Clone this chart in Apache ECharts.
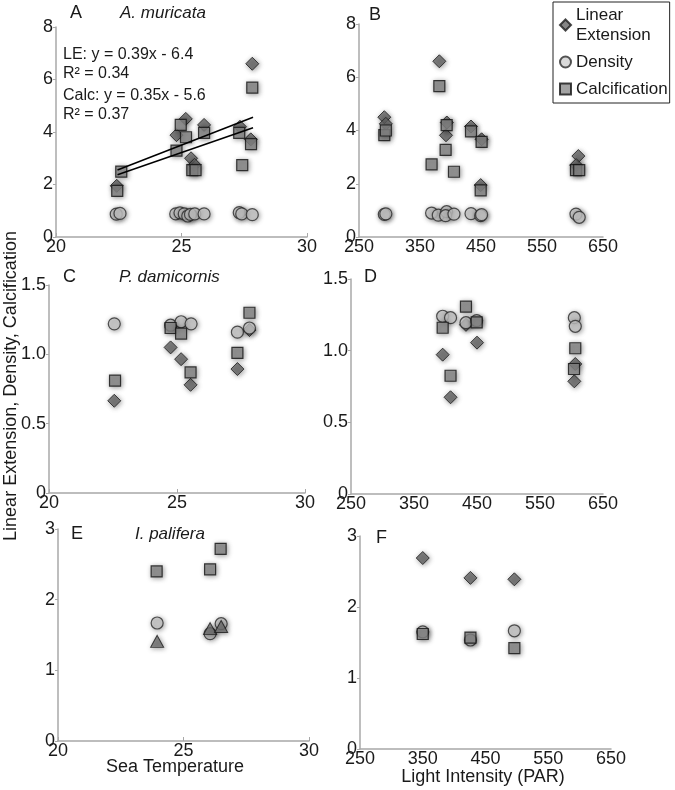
<!DOCTYPE html>
<html>
<head>
<meta charset="utf-8">
<script src="https://cdn.jsdelivr.net/npm/echarts@6/dist/echarts.min.js"></script>
<style>
html,body{margin:0;padding:0;background:#fff;}
#chart{width:675px;height:790px;}
</style>
</head>
<body>
<div id="chart"></div>
<script>
// ---- Data ----
// Panel A: A. muricata vs Sea Temperature
const aLE   = [[22.42,1.95],[24.8,3.88],[25.17,4.5],[25.38,3.0],[25.52,2.75],[25.9,4.27],[27.33,4.2],[27.82,6.6],[27.76,3.72]];
const aDen  = [[22.4,0.87],[22.55,0.9],[24.77,0.88],[24.94,0.92],[25.11,0.88],[25.25,0.8],[25.36,0.86],[25.53,0.88],[25.9,0.88],[27.3,0.93],[27.4,0.88],[27.82,0.85]];
const aCalc = [[22.44,1.76],[22.6,2.49],[24.8,3.29],[24.97,4.27],[25.18,3.8],[25.43,2.55],[25.56,2.55],[25.9,3.97],[27.3,3.97],[27.42,2.74],[27.82,5.69],[27.77,3.54]];
const aLEFit   = [[22.45,2.55],[27.85,4.56]];
const aCalcFit = [[22.45,2.37],[27.85,4.16]];
// Panel B: A. muricata vs Light Intensity
const bLE   = [[291.5,4.5],[294,4.25],[381.7,6.6],[392.6,3.82],[394,4.3],[433.6,4.15],[451,3.67],[449.5,1.95],[609.6,3.04],[606,2.7]];
const bDen  = [[291.5,0.85],[294,0.87],[369,0.9],[380,0.82],[393.7,0.95],[392,0.8],[405.7,0.86],[433.6,0.88],[449.5,0.8],[451,0.84],[605.7,0.86],[611,0.74]];
const bCalc = [[291.5,3.83],[294,4.0],[381.7,5.67],[369,2.73],[393.7,4.2],[392,3.27],[405.7,2.45],[433.6,3.97],[451,3.57],[449.5,1.75],[605.7,2.51],[611,2.51]];
// Panel C: P. damicornis vs Sea Temperature
const cLE   = [[22.55,0.665],[24.75,1.05],[25.16,0.965],[25.53,0.78],[27.36,0.894],[27.83,1.175]];
const cDen  = [[22.55,1.22],[24.75,1.21],[25.16,1.235],[25.55,1.22],[27.36,1.16],[27.83,1.19]];
const cCalc = [[22.58,0.81],[24.75,1.19],[25.16,1.15],[25.53,0.87],[27.36,1.01],[27.83,1.30]];
// Panel D: P. damicornis vs Light Intensity
const dLE   = [[395.5,0.972],[408,0.675],[432.5,1.18],[450,1.056],[606,0.907],[604.5,0.786]];
const dDen  = [[395.5,1.24],[408,1.23],[432.5,1.195],[449.5,1.21],[604.5,1.23],[606,1.17]];
const dCalc = [[395.5,1.16],[408,0.825],[432.5,1.307],[449.5,1.198],[606,1.017],[604,0.872]];
// Panel E: I. palifera vs Sea Temperature
const eLE   = [[23.95,1.41],[26.06,1.59],[26.5,1.62]];
const eDen  = [[23.95,1.67],[26.06,1.52],[26.5,1.66]];
const eCalc = [[23.93,2.40],[26.06,2.43],[26.48,2.72]];
// Panel F: I. palifera vs Light Intensity
const fLE   = [[350,2.69],[426,2.41],[496,2.39]];
const fDen  = [[350,1.65],[426,1.535],[496,1.665]];
const fCalc = [[350,1.62],[426,1.57],[496,1.42]];

const tempTicks  = [20, 25, 30];
const lightTicks = [250, 350, 450, 550, 650];
const seriesNames = ['Linear\nExtension', 'Density', 'Calcification'];
const panelLetters = ['A','B','C','D','E','F'];
const speciesNames = ['A. muricata', 'P. damicornis', 'I. palifera'];
const equations = ['LE: y = 0.39x - 6.4', 'R\u00b2 = 0.34', 'Calc: y = 0.35x - 5.6', 'R\u00b2 = 0.37'];

// ---- Styling / layout ----
const FONT = '"Liberation Sans", Arial, Helvetica, sans-serif';
const TXT = '#1a1a1a';
const AXIS = '#a8a8a8';
const grids = [
  {left:56,  top:27,  width:251, height:210},
  {left:359, top:24,  width:244, height:213},
  {left:49,  top:285, width:256, height:208},
  {left:351, top:279, width:252, height:215},
  {left:58,  top:529, width:251, height:212},
  {left:360, top:536, width:251, height:213}
];
const shadow = {shadowBlur:5, shadowColor:'rgba(0,0,0,0.45)', shadowOffsetX:1, shadowOffsetY:1};
const styleLE   = {symbol:'diamond', symbolSize:[13,13], itemStyle:Object.assign({color:'#666666', borderColor:'#1a1a1a', borderWidth:1}, shadow)};
const styleDen  = {symbol:'circle',  symbolSize:12, itemStyle:Object.assign({color:'#cfcfcf', borderColor:'#2a2a2a', borderWidth:1.2}, shadow)};
const styleCalc = {symbol:'rect',    symbolSize:11, itemStyle:Object.assign({color:'#8c8c8c', borderColor:'#111', borderWidth:1.2}, shadow)};
const styleTri  = {symbol:'triangle',symbolSize:[13,12], itemStyle:Object.assign({color:'#747474', borderColor:'#1a1a1a', borderWidth:1}, shadow)};

function xAxisTemp(i){
  return {gridIndex:i, type:'value', min:20, max:30, interval:5,
    axisLine:{show:true, onZero:false, lineStyle:{color:AXIS, width:1.5}},
    axisTick:{show:true, inside:true, length:4, lineStyle:{color:AXIS}},
    splitLine:{show:false},
    axisLabel:{color:TXT, fontFamily:FONT, fontSize:18, margin:1}};
}
function xAxisLight(i){
  return {gridIndex:i, type:'value', min:250, max:650, interval:50,
    axisLine:{show:true, onZero:false, lineStyle:{color:AXIS, width:1.5}},
    axisTick:{show:false},
    splitLine:{show:false},
    axisLabel:{color:TXT, fontFamily:FONT, fontSize:18, margin:1,
      formatter:function(v){ return lightTicks.indexOf(v) >= 0 ? String(v) : ''; }}};
}
function yAxis(i, max, interval, dec){
  return {gridIndex:i, type:'value', min:0, max:max, interval:interval,
    axisLine:{show:true, onZero:false, lineStyle:{color:AXIS, width:1.5}},
    axisTick:{show:true, length:3, lineStyle:{color:AXIS}},
    splitLine:{show:false},
    axisLabel:{color:TXT, fontFamily:FONT, fontSize:18, margin:3,
      formatter:function(v){ return v === 0 ? '0' : (dec ? v.toFixed(1) : String(v)); }}};
}

function scat(name, st, data, idx, z){
  return Object.assign({type:'scatter', name:name, xAxisIndex:idx, yAxisIndex:idx, data:data, z:z}, st);
}

const panels = [
  [aLE, aDen, aCalc], [bLE, bDen, bCalc], [cLE, cDen, cCalc],
  [dLE, dDen, dCalc], [eLE, eDen, eCalc], [fLE, fDen, fCalc]
];
const series = [];
panels.forEach(function(p, i){
  if (i === 4) series.push(scat('Linear Extension (triangle)', styleTri, p[0], i, 4));
  else series.push(scat(seriesNames[0], styleLE, p[0], i, 2));
  series.push(scat(seriesNames[1], styleDen, p[1], i, 3));
  series.push(scat(seriesNames[2], styleCalc, p[2], i, 5));
});
[aLEFit, aCalcFit].forEach(function(d){
  series.push({type:'line', name:'fit', xAxisIndex:0, yAxisIndex:0, data:d, showSymbol:false, symbol:'none',
    lineStyle:{color:'#000', width:1.5}, z:6, silent:true});
});

function txt(x, y, s, opt){
  return {type:'text', x:x, y:y, silent:true, z:50, style:Object.assign({text:s, fill:TXT, font:'18px ' + FONT, textVerticalAlign:'middle'}, opt || {})};
}
const ITAL = 'italic 17px ' + FONT;
const graphics = [
  txt(70, 13, panelLetters[0]), txt(120, 13, speciesNames[0], {font:ITAL}),
  txt(369, 15, panelLetters[1]),
  txt(63, 277, panelLetters[2]), txt(119, 277, speciesNames[1], {font:ITAL}),
  txt(364, 277, panelLetters[3]),
  txt(71, 534, panelLetters[4]), txt(135, 534, speciesNames[2], {font:ITAL}),
  txt(376, 538, panelLetters[5]),
  txt(63, 55, equations[0], {font:'16px ' + FONT}),
  txt(63, 74, equations[1], {font:'16px ' + FONT}),
  txt(63, 96, equations[2], {font:'16px ' + FONT}),
  txt(63, 115, equations[3], {font:'16px ' + FONT}),
  txt(175, 767, 'Sea Temperature', {textAlign:'center'}),
  txt(483, 777, 'Light Intensity (PAR)', {textAlign:'center'}),
  {type:'text', x:11, y:386, rotation:Math.PI/2, silent:true, z:50,
   style:{text:'Linear Extension, Density, Calcification', fill:TXT, font:'18px ' + FONT, textAlign:'center', textVerticalAlign:'middle'}}
];

const chart = echarts.init(document.getElementById('chart'), null, {renderer:'canvas'});
chart.setOption({
  animation:false,
  backgroundColor:'#fff',
  grid: grids,
  xAxis: [xAxisTemp(0), xAxisLight(1), xAxisTemp(2), xAxisLight(3), xAxisTemp(4), xAxisLight(5)],
  yAxis: [yAxis(0,8,2,false), yAxis(1,8,2,false), yAxis(2,1.5,0.5,true), yAxis(3,1.5,0.5,true), yAxis(4,3,1,false), yAxis(5,3,1,false)],
  legend: {
    data: seriesNames, orient:'vertical', left:553, top:2,
    borderColor:'#222', borderWidth:1, padding:[3,2,4,6], itemGap:7,
    itemWidth:11, itemHeight:11, selectedMode:false,
    textStyle:{color:TXT, fontFamily:FONT, fontSize:17, lineHeight:20}
  },
  series: series,
  graphic: graphics
});
</script>
</body>
</html>
